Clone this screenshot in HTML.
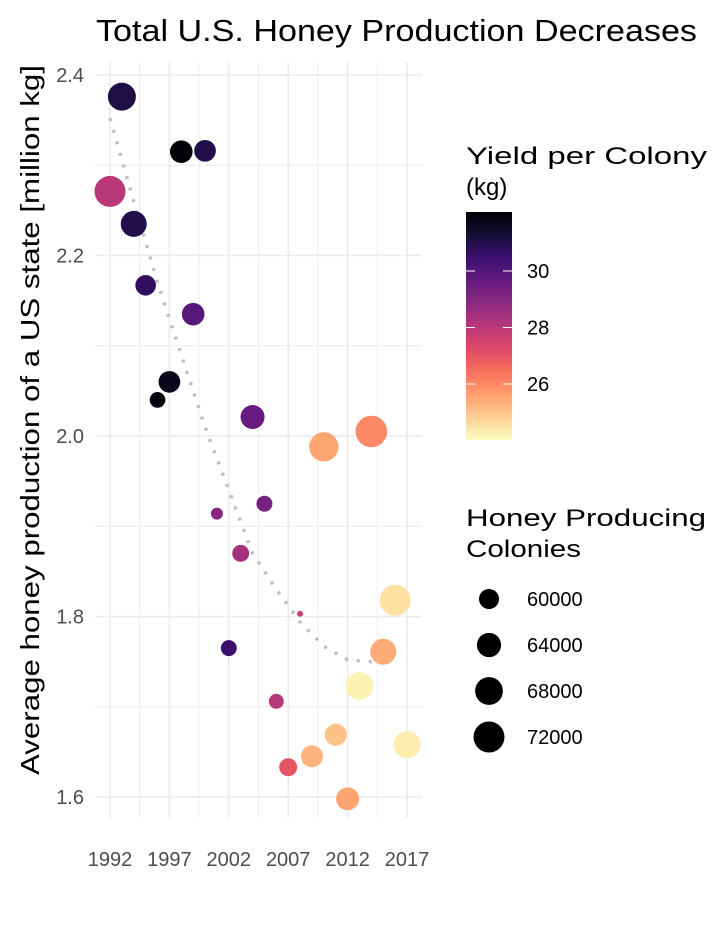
<!DOCTYPE html>
<html><head><meta charset="utf-8"><style>
body{margin:0;background:#fff;font-family:"Liberation Sans",sans-serif;}
svg text{font-family:"Liberation Sans",sans-serif;}
</style></head><body>
<svg id="chart" width="720" height="921" xmlns="http://www.w3.org/2000/svg">
<rect width="720" height="921" fill="#fff"/>
<text x="96" y="41" font-size="31" textLength="601" lengthAdjust="spacingAndGlyphs" fill="#000">Total U.S. Honey Production Decreases</text>
<text transform="translate(39,420) rotate(-90)" text-anchor="middle" font-size="26" textLength="710" lengthAdjust="spacingAndGlyphs" fill="#000">Average honey production of a US state [million kg]</text>
<g id="grid"></g>
<g id="trend"></g>
<g id="points"></g>
<g id="axes"></g>
<g>
<text x="466" y="164" font-size="24" textLength="241" lengthAdjust="spacingAndGlyphs">Yield per Colony</text>
<text x="466" y="195" font-size="24">(kg)</text>
<defs><linearGradient id="cb" x1="0" y1="0" x2="0" y2="1">
<stop offset="0" stop-color="#000004"/><stop offset="0.1" stop-color="#140e36"/><stop offset="0.2" stop-color="#3b0f70"/><stop offset="0.3" stop-color="#641a80"/><stop offset="0.4" stop-color="#8c2981"/><stop offset="0.5" stop-color="#b73779"/><stop offset="0.6" stop-color="#de4968"/><stop offset="0.7" stop-color="#f7705c"/><stop offset="0.8" stop-color="#fe9f6d"/><stop offset="0.9" stop-color="#fecf92"/><stop offset="1" stop-color="#fcfdbf"/>
</linearGradient></defs>
<rect x="466" y="212" width="46" height="228" fill="url(#cb)"/>
<g id="cbticks"></g>
</g>
<g>
<text x="466" y="526" font-size="24" textLength="240" lengthAdjust="spacingAndGlyphs">Honey Producing</text>
<text x="466" y="557" font-size="24" textLength="115" lengthAdjust="spacingAndGlyphs">Colonies</text>
<g id="sizeleg"></g>
</g>
</svg>
<script>
const years=[1992,1993,1994,1995,1996,1997,1998,1999,2000,2001,2002,2003,2004,2005,2006,2007,2008,2009,2010,2011,2012,2013,2014,2015,2016,2017];
const production=[2.271,2.376,2.235,2.167,2.040,2.060,2.315,2.135,2.316,1.914,1.765,1.870,2.021,1.925,1.706,1.633,1.803,1.645,1.988,1.669,1.598,1.723,2.005,1.761,1.818,1.658];
const yieldKg=[28.0,31.1,31.0,30.7,32.0,31.7,32.0,29.9,31.0,28.9,30.5,28.4,29.6,29.3,28.05,27.0,27.6,25.3,25.5,25.05,25.5,24.2,26.0,25.4,24.5,24.3];
const colonies=[72000,68200,65900,60500,56700,61500,62400,62400,61500,54500,56900,57600,63800,56900,56200,58400,52200,61800,69900,61800,62700,68200,72800,65900,72000,67000];
const trendYears=[1992,1994,1996,1998,2000,2002,2004,2006,2008,2010,2012,2014,2016];
const trendValues=[2.352,2.26,2.17,2.09,2.01,1.94,1.87,1.83,1.794,1.767,1.752,1.75,1.76];
const xTicks=[1992,1997,2002,2007,2012,2017];
const yTicks=[1.6,1.8,2.0,2.2,2.4];
const cbTicks=[26,28,30];
const sizeTicks=[60000,64000,68000,72000];

const NS="http://www.w3.org/2000/svg";
const X=v=>110+(v-1992)*(407-110)/25;
const Y=v=>797-(v-1.6)*(797-75)/0.8;
const CB=v=>384-(v-26)*(384-271)/4;
const R=c=>Math.sqrt(Math.max(4,100+(c-60000)*140/12000));
const stops=["#000004","#140e36","#3b0f70","#641a80","#8c2981","#b73779","#de4968","#f7705c","#fe9f6d","#fecf92","#fcfdbf"].map(h=>[1,3,5].map(i=>parseInt(h.substr(i,2),16)));
function col(v){let t=(32.1-v)/(32.1-24.0);t=Math.max(0,Math.min(1,t))*10;const i=Math.min(9,Math.floor(t)),f=t-i;const c=stops[i].map((a,k)=>Math.round(a+(stops[i+1][k]-a)*f));return `rgb(${c})`;}
function mk(tag,attrs,parent){const e=document.createElementNS(NS,tag);for(const k in attrs)e.setAttribute(k,attrs[k]);parent.appendChild(e);return e;}
const grid=document.getElementById('grid');
for(let i=0;i<yTicks.length;i++){
  const l=mk('line',{x1:95,x2:422,y1:Y(yTicks[i]),y2:Y(yTicks[i]),stroke:'#ebebeb','stroke-width':1.6},grid);
  
  
  if(i<yTicks.length-1){const m=mk('line',{x1:95,x2:422,y1:Y(yTicks[i]+0.1),y2:Y(yTicks[i]+0.1),stroke:'#ebebeb','stroke-width':0.9},grid);
  
  }
}
for(let i=0;i<xTicks.length;i++){
  const l=mk('line',{x1:X(xTicks[i]),x2:X(xTicks[i]),y1:62,y2:818,stroke:'#ebebeb','stroke-width':1.6},grid);
  
  
  if(i<xTicks.length-1){const m=mk('line',{x1:X(xTicks[i]+2.5),x2:X(xTicks[i]+2.5),y1:62,y2:818,stroke:'#ebebeb','stroke-width':0.9},grid);
  
  }
}
const axes=document.getElementById('axes');
yTicks.forEach(v=>{const t=mk('text',{x:84,y:Y(v)+7,'text-anchor':'end','font-size':20,fill:'#4d4d4d'},axes);t.textContent=v.toFixed(1);

});
xTicks.forEach(v=>{const t=mk('text',{x:X(v),y:866,'text-anchor':'middle','font-size':20,fill:'#4d4d4d'},axes);t.textContent=v;

});
const tr=document.getElementById('trend');
const p=mk('path',{d:trendYears.map((y,i)=>(i?'L':'M')+X(y)+','+Y(trendValues[i])).join(''),fill:'none',stroke:'#bebebe','stroke-width':3.5,'stroke-dasharray':'3 9'},tr);


const pts=document.getElementById('points');
years.forEach((y,i)=>{const c=mk('circle',{cx:X(y),cy:Y(production[i]),r:R(colonies[i]),fill:col(yieldKg[i])},pts);

});
const cbt=document.getElementById('cbticks');
cbTicks.forEach(v=>{const yy=CB(v);
  mk('line',{x1:466,x2:475,y1:yy,y2:yy,stroke:'#fff','stroke-width':1},cbt);
  mk('line',{x1:503,x2:512,y1:yy,y2:yy,stroke:'#fff','stroke-width':1},cbt);
  const t=mk('text',{x:527,y:yy+7,'font-size':20},cbt);t.textContent=v;
  
  });
const sl=document.getElementById('sizeleg');
sizeTicks.forEach((v,i)=>{const yy=599+i*46;
  const c=mk('circle',{cx:489,cy:yy,r:R(v),fill:'#000'},sl);
  
  
  const t=mk('text',{x:527,y:yy+7,'font-size':20},sl);t.textContent=v;
  
  });
</script>
</body></html>
